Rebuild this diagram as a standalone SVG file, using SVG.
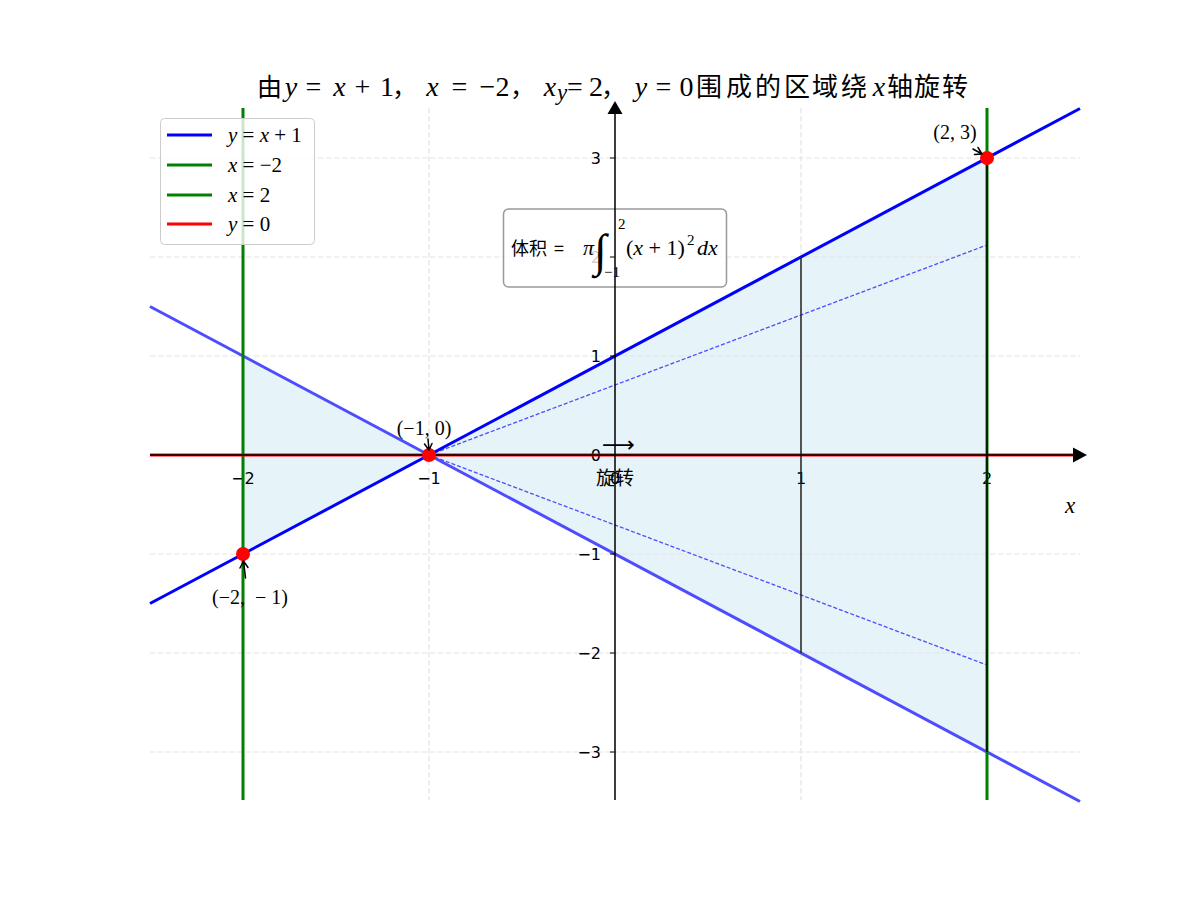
<svg xmlns="http://www.w3.org/2000/svg" width="1200" height="900" viewBox="0 0 1200 900">
<style>
.cjk{font-family:"Noto Sans CJK SC","Noto Sans",sans-serif;fill:#000}
.m{font-family:"Liberation Serif","DejaVu Serif",serif;fill:#000}
.i{font-style:italic}
.tick{font-family:"DejaVu Sans","Noto Sans CJK SC",sans-serif;font-size:16px;fill:#000}
.grid{stroke:#e3e3e3;stroke-width:1.2;stroke-dasharray:5.5,2.5;fill:none}
.ann{stroke:#000;stroke-width:1.5;fill:none;stroke-linecap:round;stroke-linejoin:round}
.t{font-size:28px}
</style>
<rect width="1200" height="900" fill="#fff"/>
<g id="fill-region">
<polygon points="243,356 429,455 243,554" fill="#e6f3f8"/>
<polygon points="429,455 987,158 987,752" fill="#e6f3f8"/>
</g>
<g id="grid">
<line class="grid" x1="243" y1="108" x2="243" y2="800"/>
<line class="grid" x1="429" y1="108" x2="429" y2="800"/>
<line class="grid" x1="615" y1="108" x2="615" y2="800"/>
<line class="grid" x1="801" y1="108" x2="801" y2="800"/>
<line class="grid" x1="987" y1="108" x2="987" y2="800"/>
<line class="grid" x1="150" y1="158" x2="1080" y2="158"/>
<line class="grid" x1="150" y1="257" x2="1080" y2="257"/>
<line class="grid" x1="150" y1="356" x2="1080" y2="356"/>
<line class="grid" x1="150" y1="455" x2="1080" y2="455"/>
<line class="grid" x1="150" y1="554" x2="1080" y2="554"/>
<line class="grid" x1="150" y1="653" x2="1080" y2="653"/>
<line class="grid" x1="150" y1="752" x2="1080" y2="752"/>
</g>
<g id="ticklabels">
<text class="tick" x="601" y="164" text-anchor="end">3</text>
<text class="tick" x="601" y="263" text-anchor="end">2</text>
<text class="tick" x="601" y="362" text-anchor="end">1</text>
<text class="tick" x="601" y="461" text-anchor="end">0</text>
<text class="tick" x="601" y="560" text-anchor="end">−1</text>
<text class="tick" x="601" y="659" text-anchor="end">−2</text>
<text class="tick" x="601" y="758" text-anchor="end">−3</text>
<text class="tick" x="243" y="484" text-anchor="middle">−2</text>
<text class="tick" x="429" y="484" text-anchor="middle">−1</text>
<text class="tick" x="615" y="484" text-anchor="middle">0</text>
<text class="tick" x="801" y="484" text-anchor="middle">1</text>
<text class="tick" x="987" y="484" text-anchor="middle">2</text>
</g>
<g id="connectors">
<line x1="150" y1="306.5" x2="1080" y2="801.5" stroke="#4d4dff" stroke-width="3"/>
<line x1="429" y1="455" x2="987" y2="245" stroke="#4d4dff" stroke-width="1.3" stroke-dasharray="4,2"/>
<line x1="429" y1="455" x2="987" y2="665" stroke="#4d4dff" stroke-width="1.3" stroke-dasharray="4,2"/>
<line x1="243" y1="108" x2="243" y2="800" stroke="#008000" stroke-width="3"/>
<line x1="987" y1="108" x2="987" y2="800" stroke="#008000" stroke-width="3"/>
<line x1="150" y1="455" x2="1080" y2="455" stroke="#ff0000" stroke-width="3"/>
<line x1="150" y1="603.5" x2="1080" y2="108.5" stroke="#0000ff" stroke-width="3"/>
<line x1="801" y1="257" x2="801" y2="653" stroke="#222" stroke-width="1.5"/>
<line x1="987" y1="158" x2="987" y2="752" stroke="#000" stroke-width="1.5"/>
</g>
<g id="legend">
<rect x="160.5" y="118.5" width="154" height="126" rx="4" fill="#fff" fill-opacity="0.8" stroke="#ccc" stroke-width="1"/>
<line x1="167" y1="135" x2="212" y2="135" stroke="#0000ff" stroke-width="3"/>
<line x1="167" y1="165" x2="212" y2="165" stroke="#008000" stroke-width="3"/>
<line x1="167" y1="195" x2="212" y2="195" stroke="#008000" stroke-width="3"/>
<line x1="167" y1="224" x2="212" y2="224" stroke="#ff0000" stroke-width="3"/>
<text class="m" x="228" y="142" font-size="21"><tspan class="i">y</tspan> = <tspan class="i">x</tspan> + 1</text>
<text class="m" x="228" y="172" font-size="21"><tspan class="i">x</tspan> = −2</text>
<text class="m" x="228" y="202" font-size="21"><tspan class="i">x</tspan> = 2</text>
<text class="m" x="228" y="231" font-size="21"><tspan class="i">y</tspan> = 0</text>
</g>
<g id="volume-box">
<rect x="503.5" y="209" width="223" height="78" rx="5" fill="#fff" fill-opacity="0.8" stroke="#999" stroke-width="1.5"/>
<text class="cjk" x="511" y="255" font-size="18">体积 <tspan dx="3">=</tspan></text>
<text class="m i" x="583" y="255" font-size="22">π</text>
<text class="m" x="594" y="266" font-size="46">∫</text>
<text class="m" x="618" y="229" font-size="15">2</text>
<text class="m" x="604" y="277" font-size="15">−1</text>
<text class="m" x="626" y="255" font-size="22">(<tspan class="i">x</tspan> + 1)</text>
<text class="m" x="687" y="245" font-size="15">2</text>
<text class="m i" x="697" y="255" font-size="22">dx</text>
</g>
<g id="axes">
<line x1="150" y1="455" x2="1075" y2="455" stroke="#000" stroke-width="1.5"/>
<polygon points="1087,455 1073,447.5 1073,462.5" fill="#000"/>
<line x1="615" y1="800" x2="615" y2="112" stroke="#000" stroke-width="1.5"/>
<polygon points="615,101 607.5,114 622.5,114" fill="#000"/>
<g stroke="#000" stroke-width="1">
<line x1="610" y1="158" x2="615" y2="158"/>
<line x1="610" y1="257" x2="615" y2="257"/>
<line x1="610" y1="356" x2="615" y2="356"/>
<line x1="610" y1="455" x2="615" y2="455"/>
<line x1="610" y1="554" x2="615" y2="554"/>
<line x1="610" y1="653" x2="615" y2="653"/>
<line x1="610" y1="752" x2="615" y2="752"/>
</g>
<text class="m i" x="1065" y="513" font-size="23">x</text>
<text class="m i" x="557" y="100" font-size="23">y</text>
</g>
<g id="points">
<circle cx="243" cy="554" r="7" fill="#ff0000"/>
<circle cx="429" cy="455" r="7" fill="#ff0000"/>
<circle cx="987" cy="158" r="7" fill="#ff0000"/>
</g>
<g id="annotations">
<text class="m" x="424" y="435" font-size="20" text-anchor="middle">(−1, 0)</text>
<path class="ann" d="M428,439 L429,450 M424.5,444 L429,450 L432,443.5"/>
<text class="m" x="955" y="139" font-size="20" text-anchor="middle">(2, 3)</text>
<path class="ann" d="M973,149 L982,154 M974.5,154.5 L982,154 L978,147.5"/>
<text class="m" x="250" y="604" font-size="20" text-anchor="middle" xml:space="preserve">(−2,  − 1)</text>
<path class="ann" d="M245.5,578 L243.5,561 M240,568 L243.5,561 L248,567.5"/>
<text class="cjk" x="615" y="485" font-size="19" text-anchor="middle">旋转</text>
<text x="602" y="452" font-family="DejaVu Sans,sans-serif" font-size="22" textLength="33" lengthAdjust="spacingAndGlyphs">⟶</text>
</g>
<g id="title">
<text class="cjk" x="257" y="96" font-size="25">由</text>
<text class="m i t" x="291" y="96" text-anchor="middle">y</text>
<text class="m t" x="313.5" y="96" text-anchor="middle">=</text>
<text class="m i t" x="339.5" y="96" text-anchor="middle">x</text>
<text class="m t" x="362.5" y="96" text-anchor="middle">+</text>
<text class="m t" x="387" y="96" text-anchor="middle">1</text>
<text class="cjk" x="392" y="96" font-size="25">，</text>
<text class="m i t" x="432.5" y="96" text-anchor="middle">x</text>
<text class="m t" x="459.5" y="96" text-anchor="middle">=</text>
<text class="m t" x="494.5" y="96" text-anchor="middle">−2</text>
<text class="cjk" x="510" y="96" font-size="25">，</text>
<text class="m i t" x="550" y="96" text-anchor="middle">x</text>
<text class="m t" x="575" y="96" text-anchor="middle">=</text>
<text class="m t" x="596" y="96" text-anchor="middle">2</text>
<text class="cjk" x="601" y="96" font-size="25">，</text>
<text class="m i t" x="641" y="96" text-anchor="middle">y</text>
<text class="m t" x="663.5" y="96" text-anchor="middle">=</text>
<text class="m t" x="686.5" y="96" text-anchor="middle">0</text>
<text class="cjk" x="696 726 755 784 812 841" y="96" font-size="26">围成的区域绕</text>
<text class="m i t" x="879" y="96" text-anchor="middle">x</text>
<text class="cjk" x="887 914 942" y="96" font-size="26">轴旋转</text>
</g>
</svg>
